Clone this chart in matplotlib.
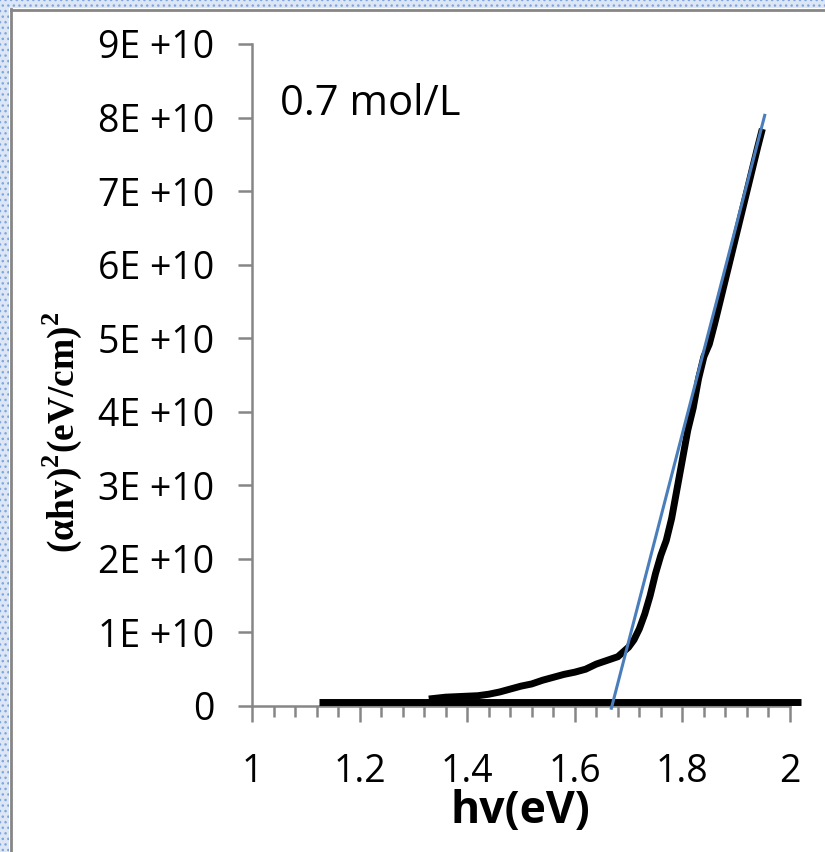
import matplotlib
matplotlib.use('Agg')
from matplotlib import pyplot as plt
from matplotlib.patches import Rectangle
from matplotlib.lines import Line2D
from matplotlib.ticker import MultipleLocator, FuncFormatter

plt.rcParams['mathtext.fontset'] = 'custom'
plt.rcParams['mathtext.rm'] = 'Liberation Serif:bold'
plt.rcParams['mathtext.bf'] = 'Liberation Serif:bold'

# measured curve (alpha*hv)^2 vs hv
hv = [1.335, 1.36, 1.39, 1.42, 1.44, 1.46, 1.48, 1.50, 1.52, 1.54, 1.56, 1.58,
      1.60, 1.62, 1.64, 1.66, 1.68, 1.70, 1.71, 1.72, 1.73, 1.74, 1.75, 1.76,
      1.77, 1.78, 1.79, 1.80, 1.81, 1.82, 1.83, 1.84, 1.85, 1.86, 1.87, 1.88,
      1.89, 1.90, 1.91, 1.92, 1.93, 1.94, 1.947]
ahv2 = [0.10, 0.12, 0.13, 0.14, 0.16, 0.19, 0.23, 0.27, 0.30, 0.35, 0.39, 0.43,
        0.46, 0.50, 0.57, 0.62, 0.67, 0.80, 0.90, 1.05, 1.25, 1.50, 1.80, 2.05,
        2.25, 2.55, 2.95, 3.35, 3.75, 4.05, 4.45, 4.75, 4.92, 5.20, 5.50, 5.80,
        6.10, 6.40, 6.70, 7.00, 7.30, 7.60, 7.80]
ahv2 = [v * 1e10 for v in ahv2]

# flat part of the data near zero
base_hv = [1.125, 2.02]
base_y = [6e8, 6e8]

# linear extrapolation (tangent)
fit_hv = [1.668, 1.953]
fit_y = [-0.03e10, 8.03e10]

W, H = 825, 852
fig = plt.figure(figsize=(W / 100, H / 100), dpi=100)
ax = fig.add_axes([252 / W, 1 - 706 / H, (790 - 252) / W, (706 - 44) / H])

ax.plot(base_hv, base_y, color='black', lw=5, solid_capstyle='butt', clip_on=False, zorder=3)
ax.plot(hv, ahv2, color='black', lw=5, solid_joinstyle='miter', zorder=4)
ax.plot(fit_hv, fit_y, color='#4a7ebb', lw=2.2, clip_on=False, zorder=5)

ax.set_xlim(1, 2)
ax.set_ylim(0, 9e10)
ax.xaxis.set_major_locator(MultipleLocator(0.2))
ax.xaxis.set_minor_locator(MultipleLocator(0.04))
ax.yaxis.set_major_locator(MultipleLocator(1e10))
ax.xaxis.set_major_formatter(FuncFormatter(lambda v, p: f'{v:g}'))
ax.yaxis.set_major_formatter(FuncFormatter(lambda v, p: '0' if v == 0 else f'{int(round(v / 1e10))}E +10'))

gray = '#868686'
for s in ['top', 'right']:
    ax.spines[s].set_visible(False)
for s in ['left', 'bottom']:
    ax.spines[s].set_color(gray)
    ax.spines[s].set_linewidth(1.8)

ax.tick_params(axis='x', which='major', length=11.5, width=1.8, color=gray, pad=22)
ax.tick_params(axis='x', which='minor', length=8, width=1.8, color=gray)
ax.tick_params(axis='y', which='major', length=10, width=1.8, color=gray, pad=17)
for lab in ax.get_xticklabels() + ax.get_yticklabels():
    lab.set_fontfamily('Open Sans')
    lab.set_fontsize(27)

ax.text(1.052, 8.18e10, '0.7 mol/L', fontfamily='Open Sans', fontsize=30, va='center', ha='left')

fig.text(520 / W, 1 - 812 / H, 'hv(eV)', fontfamily='Open Sans', fontweight='bold',
         fontsize=32, ha='center', va='center')
fig.text(62 / W, 1 - 432 / H, r'(αhv)$^{2}$(eV/cm)$^{2}$', fontfamily='Liberation Serif', fontweight='bold',
         fontsize=27, rotation=90, ha='center', va='center')

# outer frame: dotted blue band and gray border
fig.patches.append(Rectangle((0, 0), 9 / W, 1, transform=fig.transFigure, facecolor='#dce6f4',
                             edgecolor='#7ea6dd', hatch='...', lw=0))
fig.patches.append(Rectangle((0, 1 - 8 / H), 1, 8 / H, transform=fig.transFigure, facecolor='#dce6f4',
                             edgecolor='#7ea6dd', hatch='...', lw=0))
fig.lines.append(Line2D([10.5 / W, 10.5 / W], [0, 1 - 9 / H], transform=fig.transFigure, color=gray, lw=2))
fig.lines.append(Line2D([10.5 / W, 1], [1 - 9.5 / H, 1 - 9.5 / H], transform=fig.transFigure, color=gray, lw=2))

fig.savefig('out.png', dpi=100)
